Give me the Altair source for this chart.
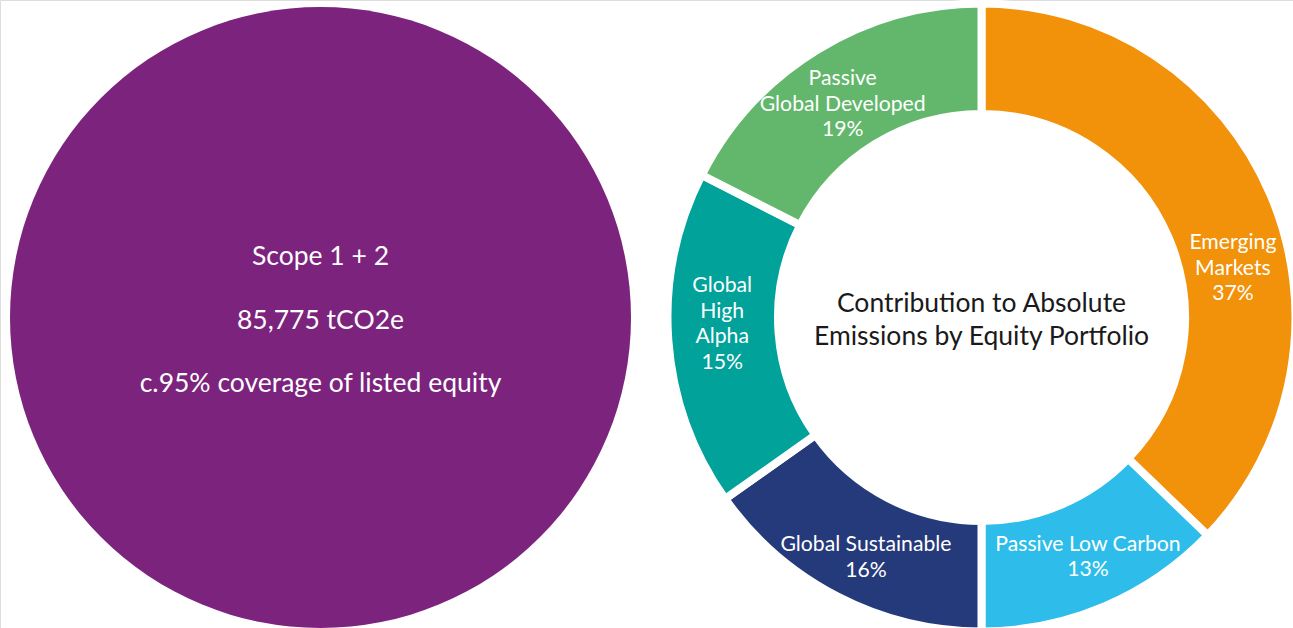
import altair as alt
import pandas as pd

# ---- data ----
portfolios = ["Emerging Markets", "Passive Low Carbon", "Global Sustainable",
              "Global High Alpha", "Passive Global Developed"]
label_lines = ["Emerging\nMarkets", "Passive Low Carbon", "Global Sustainable",
               "Global\nHigh\nAlpha", "Passive\nGlobal Developed"]
# slice sizes as drawn in the picture (%)
shares = [37.2, 12.8, 15.2, 17.3, 17.5]
# percentages printed on the labels
label_pcts = [37, 13, 16, 15, 19]
colors = ["#F2910A", "#2EBDEA", "#253A7B", "#00A29A", "#62B76C"]

scope_lines = ["Scope 1 + 2", "85,775 tCO2e", "c.95% coverage of listed equity"]
scope_total = [85775]
center_title = ["Contribution to Absolute", "Emissions by Equity Portfolio"]

FONT = "Lato"
W, H = 1293, 628
PIE_X, PIE_Y = 981.5, 317.5
LEFT_X, LEFT_Y = 320.5, 317.5

df = pd.DataFrame({
    "portfolio": portfolios,
    "share": shares,
    "order": list(range(len(portfolios))),
    "label": [f"{l}\n{p}%" for l, p in zip(label_lines, label_pcts)],
})
total = sum(shares)

color_scale = alt.Scale(domain=portfolios, range=colors)

# left circle
left_df = pd.DataFrame({"metric": ["Scope 1 + 2"], "value": scope_total,
                        "text": ["\n".join(scope_lines)]})
left_circle = alt.Chart(left_df).mark_arc(radius=310.5, color="#7B237D").encode(
    theta=alt.Theta("value:Q", scale=alt.Scale(domain=[0, scope_total[0]])),
    x=alt.value(LEFT_X), y=alt.value(LEFT_Y),
)
left_text = alt.Chart(left_df).mark_text(
    font=FONT, fontSize=26.5, color="white", lineBreak="\n", lineHeight=63.5,
    align="center", baseline="middle"
).encode(text="text:N", x=alt.value(LEFT_X), y=alt.value(257))
left_layer = alt.layer(left_circle, left_text)

# donut
donut = alt.Chart(df).mark_arc(radius=314, radius2=203.5, stroke="white", strokeWidth=8).encode(
    theta=alt.Theta("share:Q", stack=True, scale=alt.Scale(domain=[0, total])),
    color=alt.Color("portfolio:N", scale=color_scale, legend=None),
    order=alt.Order("order:Q"),
    x=alt.value(PIE_X), y=alt.value(PIE_Y),
)

label_base = alt.Chart(df).transform_window(
    cum="sum(share)", sort=[alt.SortField("order")]
).transform_calculate(mid="datum.cum - datum.share / 2")

# label nudges (dx, dy) from the slice mid-angle, to the first text line
offsets = {
    "Emerging Markets": (14, 26.5),
    "Passive Low Carbon": (5.5, -10),
    "Global Sustainable": (3, -1.5),
    "Global High Alpha": (-2, -50),
    "Passive Global Developed": (-4, -18.5),
}
label_layers = []
for name in portfolios:
    dx, dy = offsets[name]
    label_layers.append(
        label_base.transform_filter(alt.datum.portfolio == name).mark_text(
            font=FONT, fontSize=21.2, color="white", lineBreak="\n", lineHeight=25.5,
            align="center", baseline="middle", radius=258, dx=dx, dy=dy
        ).encode(
            theta=alt.Theta("mid:Q", stack=None, scale=alt.Scale(domain=[0, total])),
            text="label:N",
            x=alt.value(PIE_X), y=alt.value(PIE_Y),
        )
    )

title_df = pd.DataFrame({"text": ["\n".join(center_title)]})
center_text = alt.Chart(title_df).mark_text(
    font=FONT, fontSize=26.5, color="#1A1A1A", lineBreak="\n", lineHeight=33,
    align="center", baseline="middle"
).encode(text="text:N", x=alt.value(PIE_X), y=alt.value(304))

donut_layer = alt.layer(donut, *label_layers, center_text)

chart = alt.layer(left_layer, donut_layer).resolve_scale(theta="independent").properties(
    width=W, height=H, padding=0, autosize=alt.AutoSizeParams(type="none")
).configure_view(stroke=None).configure(background="white")

chart.save("out.html", embed_options={"renderer": "svg", "actions": False})
